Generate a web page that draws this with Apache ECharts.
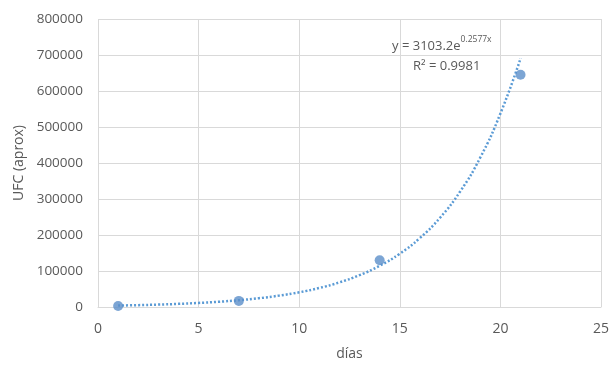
<!DOCTYPE html>
<html><head><meta charset="utf-8">
<script src="https://cdn.jsdelivr.net/npm/echarts@6/dist/echarts.min.js"></script>
<style>html,body{margin:0;padding:0;background:#fff}#c{width:616px;height:366px}</style>
</head><body><div id="c"></div>
<script>
// Measured points
const days = [1, 7, 14, 21];
const ufc = [3000, 17000, 130000, 645000];
// Exponential trend line (day, value)
const trendDays = [1,2,3,4,5,6,7,8,9,10,11,12,13,14,15,16,17,18,19,20,21];
const trendVals = [4000,5200,6700,8700,11300,14600,18800,24400,31600,40800,52800,68400,88500,114500,148100,191700,248000,320900,415200,537300,690000];
const xTicks = [0,5,10,15,20,25];
const yTicks = [0,100000,200000,300000,400000,500000,600000,700000,800000];
const eqText = 'y = 3103.2e';
const eqExp = '0.2577x';
const r2Text = 'R² = 0.9981';

const FONT = 'Open Sans';
const GRAY = '#595959';
const chart = echarts.init(document.getElementById('c'), null, {renderer:'canvas'});
chart.setOption({
  animation:false,
  backgroundColor:'#fff',
  textStyle:{fontFamily:FONT},
  grid:{left:98,right:15,top:19,bottom:59},
  xAxis:{type:'value',min:xTicks[0],max:xTicks[xTicks.length-1],interval:5,
    name:'días',nameLocation:'middle',nameGap:40,
    nameTextStyle:{color:GRAY,fontSize:14,fontFamily:FONT},
    axisLine:{show:true,lineStyle:{color:'#d9d9d9'}},axisTick:{show:false},
    axisLabel:{color:GRAY,fontSize:14,fontFamily:FONT,margin:15},
    splitLine:{show:true,lineStyle:{color:'#d9d9d9'}}},
  yAxis:{type:'value',min:yTicks[0],max:yTicks[yTicks.length-1],interval:100000,
    name:'UFC (aprox)',nameLocation:'middle',nameGap:66,nameRotate:90,
    nameTextStyle:{color:GRAY,fontSize:14,fontFamily:FONT},
    axisLine:{show:false},axisTick:{show:false},
    axisLabel:{color:GRAY,fontSize:13.5,fontFamily:FONT,margin:15,formatter:v=>String(v)},
    splitLine:{show:true,lineStyle:{color:'#d9d9d9'}}},
  series:[
    {type:'line',data:trendDays.map((d,i)=>[d,trendVals[i]]),smooth:true,showSymbol:false,
      lineStyle:{color:'#5b9bd5',width:2.5,type:[2,2]},z:2},
    {type:'scatter',data:days.map((d,i)=>[d,ufc[i]]),symbolSize:10,
      itemStyle:{color:'#5b8fc9'},z:3}
  ],
  graphic:[
    {type:'text',left:392,top:35,style:{text:'{a|'+eqText+'}{s|'+eqExp+'}',rich:{
      a:{fontSize:13,fill:GRAY,fontFamily:FONT,verticalAlign:'bottom',lineHeight:18},
      s:{fontSize:8.5,fill:GRAY,fontFamily:FONT,verticalAlign:'top',lineHeight:18,padding:[0,0,9,0]}}}},
    {type:'text',left:413,top:60,style:{text:r2Text,fontSize:13,fill:GRAY,fontFamily:FONT}}
  ]
});
</script></body></html>
